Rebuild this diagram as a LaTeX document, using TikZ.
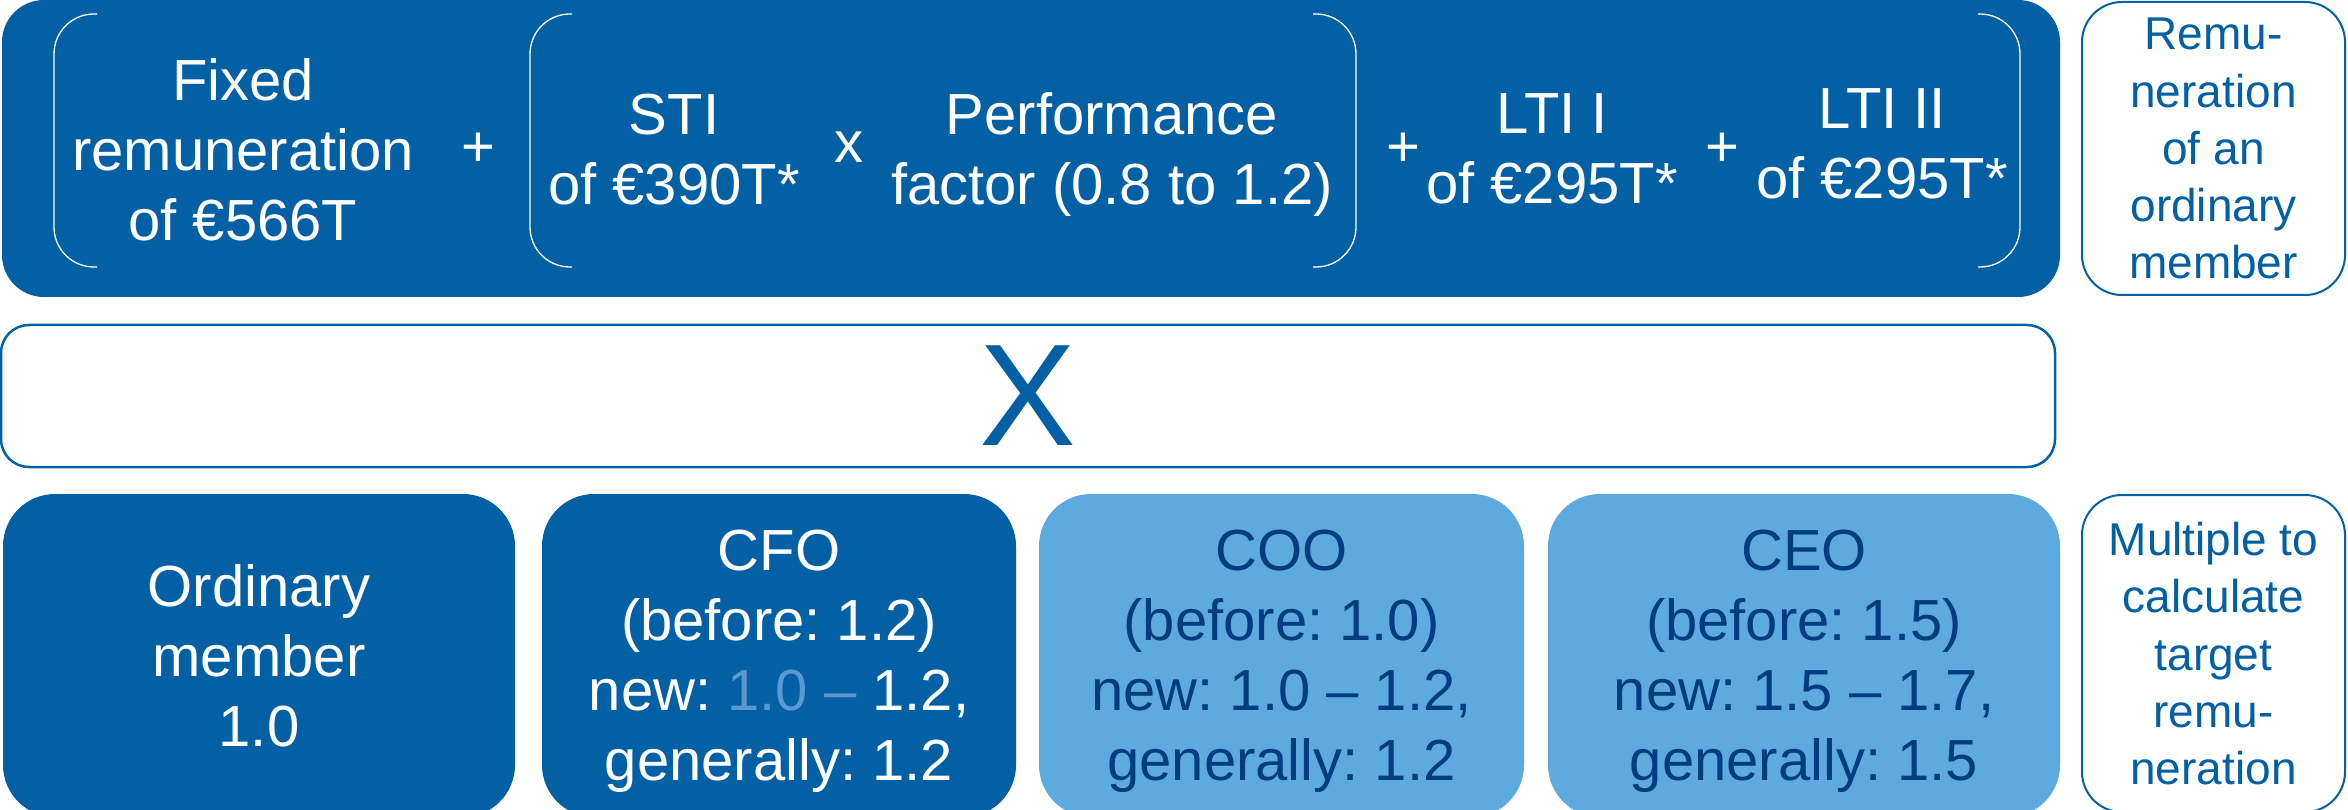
\documentclass[tikz,border=0pt]{standalone}
\usepackage{fontspec}
\setmainfont{Liberation Sans}
\usetikzlibrary{positioning}

\definecolor{darkblue}{HTML}{0360A4}
\definecolor{lightblue}{HTML}{5DABDE}
\definecolor{navy}{HTML}{003C7E}
\definecolor{paleblue}{HTML}{5B97D0}

\frenchspacing

\begin{document}
\begin{tikzpicture}[x=1pt, y=-1pt,
    bigtext/.style={font=\fontsize{58}{70}\selectfont, align=center, inner sep=0pt, text depth=0pt},
    labeltext/.style={font=\fontsize{46}{57.3}\selectfont, align=center, inner sep=0pt, text depth=0pt},
    toptext/.style={bigtext, text=white},
    darkbox/.style={bigtext, fill=darkblue, text=white, rounded corners=52pt, minimum height=323pt},
    lightbox/.style={bigtext, fill=lightblue, text=navy, rounded corners=52pt, minimum height=323pt},
    labelbox/.style={labeltext, draw=darkblue, line width=2pt, fill=white, text=darkblue, rounded corners=40pt, minimum width=263pt},
    bracket/.style={draw=white, line width=1.3pt, rounded corners=40pt}]
    \clip (0, 0) rectangle (2348, 810);

    \node (total) [fill=darkblue, rounded corners=42pt, inner sep=0pt, minimum width=2058pt, minimum height=297pt] at (1031, 148.5) {};
    \draw [bracket] (97, 14) -- (54, 14) -- (54, 267) -- (97, 267);
    \draw [bracket] (572, 14) -- (530, 14) -- (530, 267) -- (572, 267);
    \draw [bracket] (1313, 14) -- (1356, 14) -- (1356, 267) -- (1313, 267);
    \draw [bracket] (1978, 14) -- (2020, 14) -- (2020, 267) -- (1978, 267);

    \node (fixed) [toptext] at (243, 149.5) {Fixed\\remuneration\\of €566T};
    \node (plusA) [toptext] at (478, 150) {+};
    \node (sti) [toptext] at (674, 149) {STI\\of €390T*};
    \node (times) [toptext] at (849, 147) {x};
    \node (perf) [toptext] at (1112, 149) {Performance\\factor (0.8 to 1.2)};
    \node (plusB) [toptext] at (1403, 150) {+};
    \node (ltiA) [toptext] at (1552, 149) {LTI I\\of €295T*};
    \node (plusC) [toptext] at (1722, 150) {+};
    \node (ltiB) [toptext] at (1882, 144) {LTI II\\of €295T*};

    \node (memberpay) [labelbox, minimum height=293pt] at (2213.5, 148.5) {Remu-\\neration\\of an\\ordinary\\member};

    \node (multiply) [draw=darkblue, line width=2.5pt, fill=white, rounded corners=28pt, minimum width=2054pt, minimum height=142pt, inner sep=0pt, text=darkblue, font=\fontsize{145}{145}\selectfont] at (1028, 396) {X};

    \node (ordinary) [darkbox, minimum width=512pt] at (259, 655.5) {Ordinary\\member\\1.0};
    \node (cfo) [darkbox, minimum width=474pt] at (779, 655.5) {CFO\\(before: 1.2)\\new: {\color{paleblue}1.0 –} 1.2,\\generally: 1.2};
    \node (coo) [lightbox, minimum width=485pt] at (1281.5, 655.5) {COO\\(before: 1.0)\\new: 1.0 – 1.2,\\generally: 1.2};
    \node (ceo) [lightbox, minimum width=512pt] at (1804, 655.5) {CEO\\(before: 1.5)\\new: 1.5 – 1.7,\\generally: 1.5};

    \node (multiple) [labelbox, minimum height=317pt] at (2213.5, 653.5) {Multiple to\\calculate\\target\\remu-\\neration};
\end{tikzpicture}
\end{document}
